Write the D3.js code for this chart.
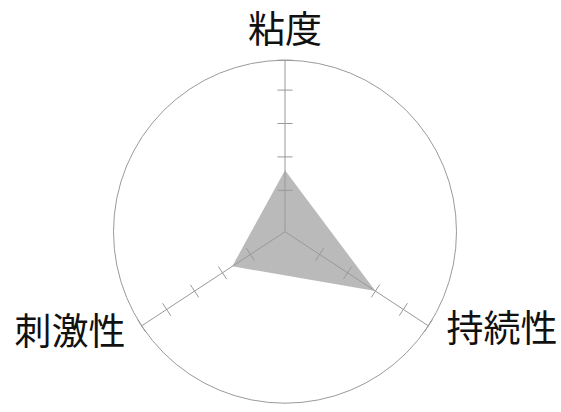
<!DOCTYPE html>
<html>
<head>
<meta charset="utf-8">
<script src="https://cdn.jsdelivr.net/npm/d3@7"></script>
<style>
  body { margin: 0; background: #fff; }
  text { font-family: "Noto Sans CJK JP", "Noto Sans", sans-serif; }
</style>
</head>
<body>
<div id="radar"></div>
<script>
// chart data
var axisNames = ["粘度", "持続性", "刺激性"];
var seriesValues = [1.6, 3, 1.65];
var tickValues = [1, 2, 3, 4];

var width = 561,
    height = 412,
    cx = 285,
    cy = 231.7,
    radius = 171.5;

// axis directions (degrees, clockwise from +x)
var axisAngles = [-90, 33.3, 146.7];
// label centres
var labelPos = [[285, 27], [502, 326], [70, 329]];

var rScale = d3.scaleLinear().domain([0, 5]).range([8, 175]);

function pt(angle, r) {
  var a = angle * Math.PI / 180;
  return [cx + r * Math.cos(a), cy + r * Math.sin(a)];
}

var svg = d3.select('#radar').append('svg')
    .attr('width', width)
    .attr('height', height);

svg.append('circle')
    .attr('cx', cx)
    .attr('cy', cy)
    .attr('r', radius)
    .style('fill', 'none')
    .style('stroke', '#9a9a9a')
    .style('stroke-width', 1);

// data polygon
var poly = seriesValues.map(function (v, i) {
  return pt(axisAngles[i], rScale(v));
});
svg.append('path')
    .attr('d', d3.line()(poly) + 'Z')
    .style('fill', '#b9bab9')
    .style('stroke', 'none');

// axes
var axes = svg.selectAll('g.axis').data(axisNames)
    .enter().append('g')
    .attr('class', 'axis');

axes.append('line')
    .attr('x1', cx)
    .attr('y1', cy)
    .attr('x2', function (d, i) { return pt(axisAngles[i], radius)[0]; })
    .attr('y2', function (d, i) { return pt(axisAngles[i], radius)[1]; })
    .style('stroke', '#999')
    .style('stroke-width', 1);

axes.each(function (d, i) {
  var g = d3.select(this);
  var ang = axisAngles[i];
  var perp = (ang + 90) * Math.PI / 180;
  var dx = 7.5 * Math.cos(perp),
      dy = 7.5 * Math.sin(perp);
  g.selectAll('line.tick').data(tickValues.concat([5]))
    .enter().append('line')
    .attr('class', 'tick')
    .attr('x1', function (t) { var p = pt(ang, Math.min(rScale(t), radius)); return p[0] - dx; })
    .attr('y1', function (t) { var p = pt(ang, Math.min(rScale(t), radius)); return p[1] - dy; })
    .attr('x2', function (t) { var p = pt(ang, Math.min(rScale(t), radius)); return p[0] + dx; })
    .attr('y2', function (t) { var p = pt(ang, Math.min(rScale(t), radius)); return p[1] + dy; })
    .style('stroke', '#999')
    .style('stroke-width', 1);
});

// labels
svg.selectAll('text.label').data(axisNames)
    .enter().append('text')
    .attr('class', 'label')
    .attr('x', function (d, i) { return labelPos[i][0]; })
    .attr('y', function (d, i) { return labelPos[i][1]; })
    .attr('text-anchor', 'middle')
    .attr('dominant-baseline', 'central')
    .style('font-size', '37px')
    .style('fill', '#111')
    .text(function (d) { return d; });
</script>
</body>
</html>
